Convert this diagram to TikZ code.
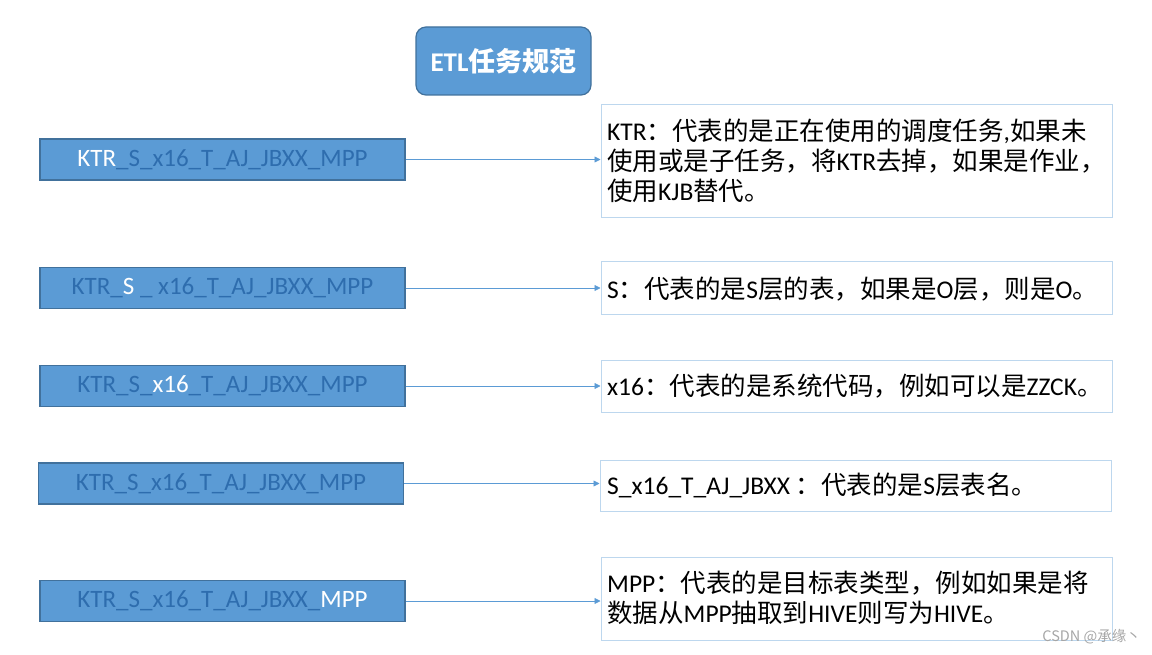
\documentclass[tikz,border=0pt]{standalone}
\usepackage{fontspec}
\setmainfont{Carlito}
\newfontfamily\cjk{Noto Sans CJK SC}
\usetikzlibrary{arrows.meta}
\definecolor{boxfill}{HTML}{5B9BD5}
\definecolor{boxline}{HTML}{41719C}
\definecolor{dimtext}{HTML}{2E6DAE}
\definecolor{noteline}{HTML}{BDD7EE}
\newcommand{\zh}[1]{{\cjk #1}}
\newcommand{\hl}[1]{\textcolor{white}{#1}}
\tikzset{
  leftbox/.style={draw=boxline, line width=1.2pt, fill=boxfill, minimum width=365pt, minimum height=41pt, inner sep=0pt, text=dimtext, font=\fontsize{25}{30}\selectfont},
  notebox/.style={draw=noteline, line width=1pt, minimum width=511pt, inner sep=0pt},
  notetext/.style={anchor=west, align=left, inner sep=0pt, font=\fontsize{25.5}{30}\selectfont, text=black},
  link/.style={draw=boxfill, line width=0.8pt, -{Triangle[length=6pt,width=6pt]}},
  titlebox/.style={draw=boxline, line width=1.2pt, fill=boxfill, rounded corners=10pt, minimum width=175pt, minimum height=68pt, text=white, font=\bfseries\fontsize{27}{30}\selectfont}
}
\begin{document}
\begin{tikzpicture}[x=1pt,y=-1pt]
\useasboundingbox (0,0) rectangle (1152,655);
% title
\node[titlebox] (title) at (503.5,61) {ETL\zh{\bfseries 任务规范}};
% left boxes
\node[leftbox] (l1) at (222.5,159.5) {\hl{KTR}\_S\_x16\_T\_AJ\_JBXX\_MPP};
\node[leftbox] (l2) at (222.5,288) {KTR\_\hl{S} \_ x16\_T\_AJ\_JBXX\_MPP};
\node[leftbox] (l3) at (222.5,386) {KTR\_S\_\hl{x16}\_T\_AJ\_JBXX\_MPP};
\node[leftbox] (l4) at (221,483.5) {KTR\_S\_x16\_T\_AJ\_JBXX\_MPP};
\node[leftbox] (l5) at (222.5,601) {KTR\_S\_x16\_T\_AJ\_JBXX\_\hl{MPP}};
% right boxes
\node[notebox, minimum height=113pt] (r1) at (856.5,161.5) {};
\node[notebox, minimum height=53pt] (r2) at (856.5,288.5) {};
\node[notebox, minimum height=52pt] (r3) at (856.5,386) {};
\node[notebox, minimum height=51pt] (r4) at (855.5,485.5) {};
\node[notebox, minimum height=83pt] (r5) at (856.5,598.5) {};
% texts
\node[notetext] (t1) at (607,161) {KTR\zh{：代表的是正在使用的调度任务},\zh{如果未}\\\zh{使用或是子任务，将}KTR\zh{去掉，如果是作业，}\\\zh{使用}KJB\zh{替代。}};
\node[notetext] (t2) at (607,289) {S\zh{：代表的是}S\zh{层的表，如果是}O\zh{层，则是}O\zh{。}};
\node[notetext] (t3) at (607,386) {x16\zh{：代表的是系统代码，例如可以是}ZZCK\zh{。}};
\node[notetext] (t4) at (607,485) {S\_x16\_T\_AJ\_JBXX \zh{：代表的是}S\zh{层表名。}};
\node[notetext] (t5) at (607,598) {MPP\zh{：代表的是目标表类型，例如如果是将}\\\zh{数据从}MPP\zh{抽取到}HIVE\zh{则写为}HIVE\zh{。}};
% connectors
\draw[link] (l1.east) -- (l1.east -| r1.west);
\draw[link] (l2.east) -- (l2.east -| r2.west);
\draw[link] (l3.east) -- (l3.east -| r3.west);
\draw[link] (l4.east) -- (l4.east -| r4.west);
\draw[link] (l5.east) -- (l5.east -| r5.west);
% watermark
\node[anchor=east, text=gray!70, font=\fontsize{14.5}{16}\selectfont, inner sep=0pt] (wm) at (1141,637) {\zh{CSDN @承缘丶}};
\end{tikzpicture}
\end{document}
